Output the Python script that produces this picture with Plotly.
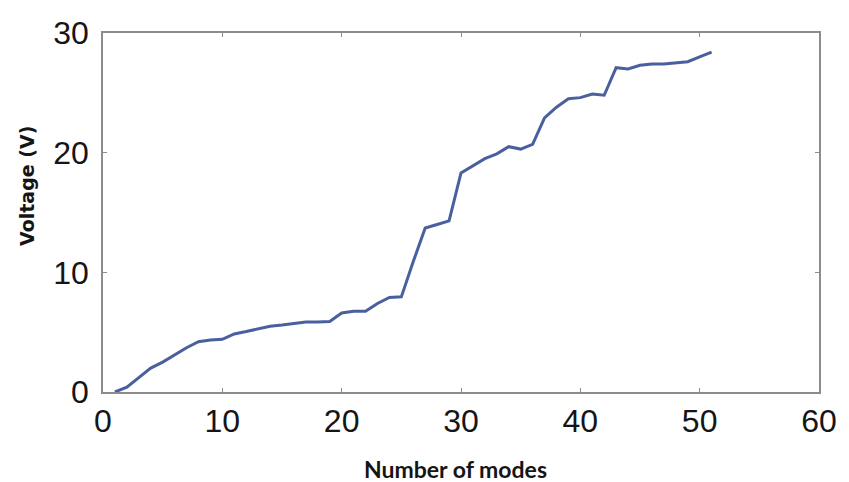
import plotly.graph_objects as go

# Measured voltage versus number of modes
modes = list(range(1, 52))
voltage = [
    0.0, 0.4, 1.2, 2.0, 2.5, 3.1, 3.7, 4.2, 4.35, 4.4,
    4.85, 5.05, 5.3, 5.5, 5.6, 5.7, 5.85, 5.85, 5.9, 6.6,
    6.75, 6.75, 7.4, 7.9, 7.95, 10.9, 13.7, 14.0, 14.3, 18.3,
    18.9, 19.5, 19.9, 20.5, 20.3, 20.7, 22.9, 23.8, 24.5, 24.6,
    24.9, 24.8, 27.1, 27.0, 27.3, 27.4, 27.4, 27.5, 27.6, 28.0,
    28.4,
]

x_ticks = [0, 10, 20, 30, 40, 50, 60]
y_ticks = [0, 10, 20, 30]

fig = go.Figure()
fig.add_trace(go.Scatter(
    x=modes, y=voltage, mode="lines",
    line=dict(color="#4a5f9e", width=3),
    showlegend=False, hoverinfo="skip",
))

axis_common = dict(
    showgrid=False, zeroline=False,
    showline=True, linecolor="#8c8c8c", linewidth=1.5, mirror="allticks",
    ticks="inside", ticklen=4, tickcolor="#8c8c8c", tickwidth=1,
    tickfont=dict(family="Liberation Sans, Arial, sans-serif", size=32, color="#151515"),
)

fig.update_xaxes(range=[0, 60], tickvals=x_ticks, ticklabelstandoff=0, **axis_common)
fig.update_yaxes(range=[0, 30], tickvals=y_ticks, ticklabelstandoff=6, **axis_common)

fig.add_annotation(
    text="Number of modes", xref="paper", yref="paper",
    x=0.492, y=-0.215, xanchor="center", yanchor="middle",
    showarrow=False,
    font=dict(family="Lato, Carlito, Calibri, sans-serif", size=23, color="#151515", weight="bold"),
)
fig.add_annotation(
    text="Voltage (V)", xref="paper", yref="paper",
    x=-0.107, y=0.575, xanchor="center", yanchor="middle",
    textangle=-90, showarrow=False,
    font=dict(family="DejaVu Sans, sans-serif", size=19, color="#151515", weight="bold"),
)

fig.update_layout(
    width=849, height=482,
    margin=dict(l=103, r=23, t=33, b=90),
    paper_bgcolor="white", plot_bgcolor="white",
)

fig.write_html("out.html")
